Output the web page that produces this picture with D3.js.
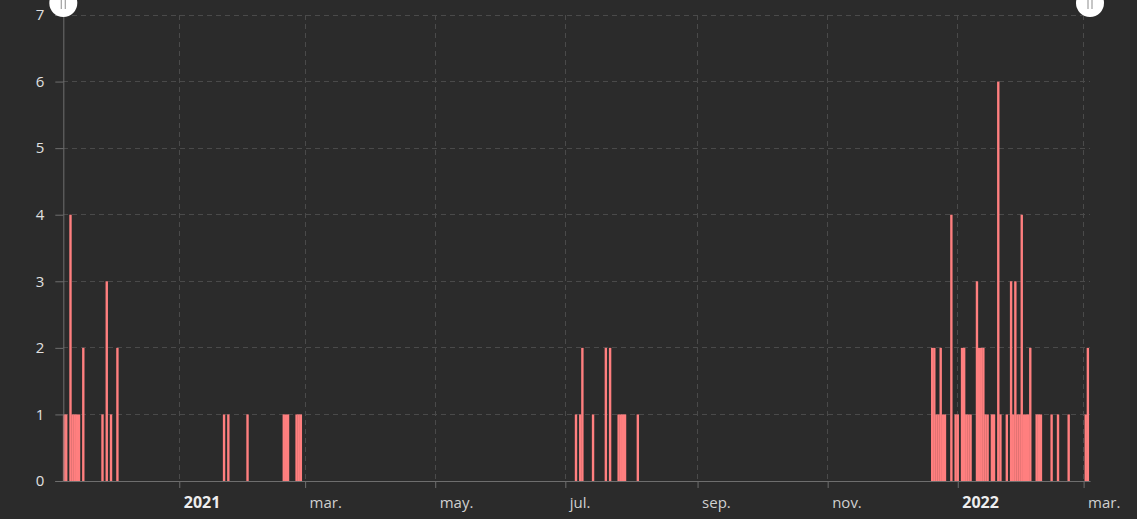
<!DOCTYPE html>
<html>
<head>
<meta charset="utf-8">
<script src="https://cdn.jsdelivr.net/npm/d3@7"></script>
<style>
  html, body { margin: 0; padding: 0; background: #2b2b2b; }
  svg { display: block; }
  text { font-family: "Open Sans", "Noto Sans", sans-serif; }
</style>
</head>
<body>
<svg id="chart" width="1137" height="519"></svg>
<script>
// ---- data ----
const dates = [
  "2020-11-08","2020-11-09","2020-11-11","2020-11-12","2020-11-13","2020-11-14","2020-11-15",
  "2020-11-17","2020-11-26","2020-11-28","2020-11-30","2020-12-03",
  "2021-01-22","2021-01-24","2021-02-02","2021-02-19","2021-02-20","2021-02-21",
  "2021-02-25","2021-02-26","2021-02-27",
  "2021-07-06","2021-07-08","2021-07-09","2021-07-14","2021-07-20","2021-07-22",
  "2021-07-26","2021-07-27","2021-07-28","2021-07-29","2021-08-04",
  "2021-12-20","2021-12-21","2021-12-22","2021-12-23","2021-12-24","2021-12-25","2021-12-26",
  "2021-12-29","2021-12-31","2022-01-01","2022-01-03","2022-01-04","2022-01-05","2022-01-06",
  "2022-01-07","2022-01-10","2022-01-11","2022-01-12","2022-01-13","2022-01-14","2022-01-15",
  "2022-01-17","2022-01-18","2022-01-20","2022-01-21","2022-01-24","2022-01-26","2022-01-27",
  "2022-01-28","2022-01-29","2022-01-30","2022-01-31","2022-02-01","2022-02-02","2022-02-03",
  "2022-02-04","2022-02-07","2022-02-08","2022-02-09","2022-02-14","2022-02-17","2022-02-22",
  "2022-03-02","2022-03-03"
];
const counts = [
  1,1,4,1,1,1,1,
  2,1,3,1,2,
  1,1,1,1,1,1,
  1,1,1,
  1,1,2,1,2,2,
  1,1,1,1,1,
  2,2,1,1,2,1,1,
  4,1,1,2,2,1,1,
  1,3,2,2,2,1,1,
  1,1,6,1,1,3,1,
  3,1,1,4,1,1,1,
  2,1,1,1,1,1,1,
  1,2
];
const xDomain = ["2020-11-07T15:00", "2022-03-04T00:00"];
const tickDates = ["2021-01-01","2021-03-01","2021-05-01","2021-07-01","2021-09-01","2021-11-01","2022-01-01","2022-03-01"];
const tickLabels = ["2021","mar.","may.","jul.","sep.","nov.","2022","mar."];
const yMax = 7;

// ---- layout ----
const W = 1137, H = 519;
const mLeft = 63.3, mRight = 1090, mTop = 15, mBottom = 481;

const parseDay = d3.utcParse("%Y-%m-%d");
const parseDT = d3.utcParse("%Y-%m-%dT%H:%M");
const data = dates.map((d, i) => ({ date: parseDay(d), value: counts[i] }));
const ticks = tickDates.map(parseDay);

const x = d3.scaleUtc().domain(xDomain.map(parseDT)).range([mLeft, mRight]);
const y = d3.scaleLinear().domain([0, yMax]).range([mBottom, mTop]);

const svg = d3.select("#chart");
svg.append("rect").attr("width", W).attr("height", H).attr("fill", "#2b2b2b");

const gridColor = "#4a4a4a";
// horizontal grid
svg.append("g").selectAll("line").data(d3.range(1, yMax + 1)).join("line")
  .attr("x1", mLeft).attr("x2", mRight)
  .attr("y1", d => y(d)).attr("y2", d => y(d))
  .attr("stroke", gridColor).attr("stroke-width", 1).attr("stroke-dasharray", "5,4")
  .attr("shape-rendering", "crispEdges");
// vertical grid
svg.append("g").selectAll("line").data(ticks).join("line")
  .attr("x1", d => x(d)).attr("x2", d => x(d))
  .attr("y1", mTop).attr("y2", mBottom)
  .attr("stroke", gridColor).attr("stroke-width", 1).attr("stroke-dasharray", "5,4")
  .attr("shape-rendering", "crispEdges");

// bars
const dayW = x(parseDay("2021-01-02")) - x(parseDay("2021-01-01"));
const bw = dayW * 1.12;
svg.append("g").selectAll("rect").data(data).join("rect")
  .attr("x", d => x(d.date) - bw / 2)
  .attr("width", bw)
  .attr("y", d => y(d.value))
  .attr("height", d => y(0) - y(d.value))
  .attr("fill", "#ff7f7f");

// y axis
const yAxis = svg.append("g").attr("transform", `translate(${mLeft},0)`)
  .call(d3.axisLeft(y).ticks(yMax).tickSize(8).tickPadding(11).tickFormat(d3.format("d")));
yAxis.select(".domain").attr("stroke", "#6e6e6e");
yAxis.selectAll(".tick line").attr("stroke", "#6e6e6e");
yAxis.selectAll(".tick text").attr("fill", "#e0e0e0").attr("font-size", 15)
  .style("font-family", '"Open Sans", "Noto Sans", sans-serif');

// x axis
const isYear = i => /^\d+$/.test(tickLabels[i]);
const xAxis = svg.append("g").attr("transform", `translate(0,${mBottom})`)
  .call(d3.axisBottom(x).tickValues(ticks).tickSize(7).tickSizeOuter(0)
    .tickFormat((d, i) => tickLabels[i]));
xAxis.select(".domain").attr("stroke", "#6e6e6e");
xAxis.selectAll(".tick line").attr("stroke", "#6e6e6e");
xAxis.selectAll(".tick text")
  .attr("text-anchor", "start").attr("x", 4).attr("y", 16)
  .attr("fill", (d, i) => isYear(i) ? "#eeeeee" : "#d0d0d0")
  .attr("font-weight", (d, i) => isYear(i) ? "bold" : "normal")
  .attr("font-size", (d, i) => isYear(i) ? 16 : 15)
  .style("font-family", '"Open Sans", "Noto Sans", sans-serif');

// data zoom handles at top corners
[mLeft, mRight].forEach(cx => {
  const g = svg.append("g");
  g.append("circle").attr("cx", cx).attr("cy", 3).attr("r", 14).attr("fill", "#ffffff");
  [-2, 2].forEach(dx => g.append("line")
    .attr("x1", cx + dx).attr("x2", cx + dx).attr("y1", 0).attr("y2", 9)
    .attr("stroke", "#a0a0a0").attr("stroke-width", 1.2));
});
</script>
</body>
</html>
